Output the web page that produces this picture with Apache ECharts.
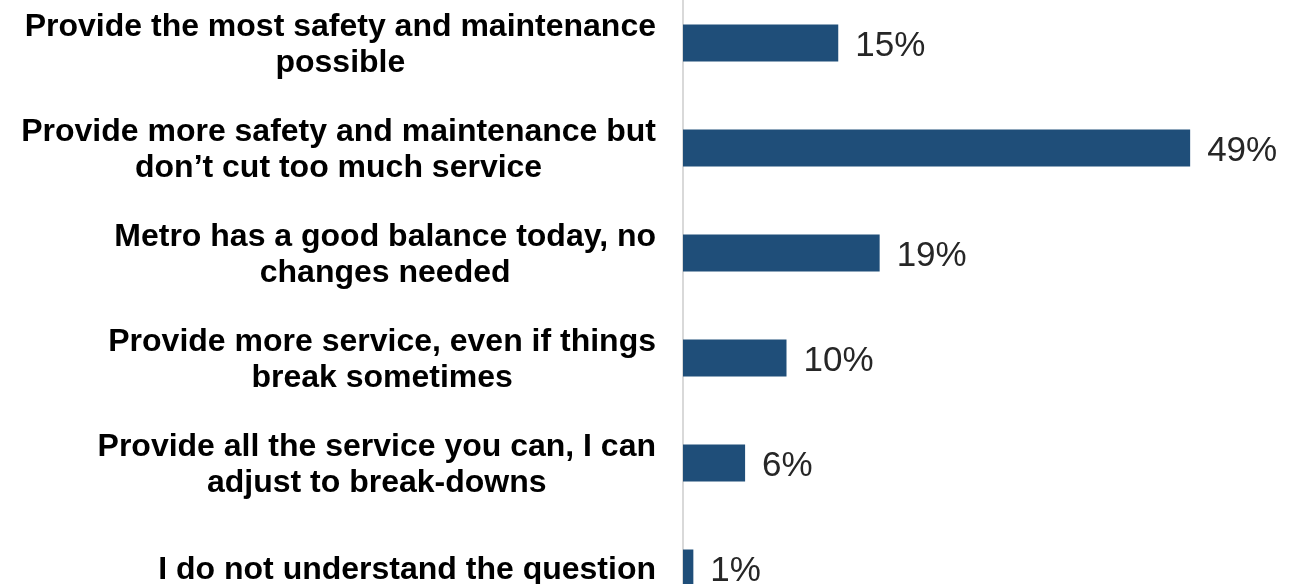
<!DOCTYPE html>
<html>
<head>
<meta charset="utf-8">
<script src="https://cdn.jsdelivr.net/npm/echarts@6/dist/echarts.min.js"></script>
<style>
  html, body { margin: 0; padding: 0; background: #ffffff; }
  #chart { width: 1306px; height: 584px; }
</style>
</head>
<body>
<div id="chart"></div>
<script>
// Survey answers, top to bottom; each entry is the lines of its label
const categories = [
  ['Provide the most safety and maintenance', 'possible'],
  ['Provide more safety and maintenance but', 'don’t cut too much service'],
  ['Metro has a good balance today, no', 'changes needed'],
  ['Provide more service, even if things', 'break sometimes'],
  ['Provide all the service you can, I can', 'adjust to break-downs'],
  ['I do not understand the question']
];
// Share of respondents, percent
const values = [15, 49, 19, 10, 6, 1];

const chart = echarts.init(document.getElementById('chart'), null, { renderer: 'canvas' });

chart.setOption({
  animation: false,
  backgroundColor: '#ffffff',
  grid: {
    left: 683,
    right: 2,
    top: -9.5,
    bottom: -36.5,
    containLabel: false,
    outerBoundsMode: 'none'
  },
  xAxis: {
    type: 'value',
    min: 0,
    max: 60,
    show: false
  },
  yAxis: {
    type: 'category',
    inverse: true,
    data: categories.map(lines => lines.join('\n')),
    axisLine: { show: true, lineStyle: { color: '#D9D9D9', width: 2 } },
    axisTick: { show: false },
    splitLine: { show: false },
    axisLabel: {
      margin: 27,
      padding: [5, 0, 0, 0],
      formatter: value => value.split('\n').map(l => '{c|' + l + '}').join('\n'),
      rich: {
        c: {
          align: 'center',
          fontFamily: '"Liberation Sans", Arial, sans-serif',
          fontWeight: 'bold',
          fontSize: 32,
          lineHeight: 36,
          color: '#000000'
        }
      }
    }
  },
  series: [{
    type: 'bar',
    data: values,
    barWidth: 37,
    itemStyle: { color: '#1F4E79' },
    label: {
      show: true,
      position: 'right',
      distance: 17,
      offset: [0, 3],
      formatter: p => p.value + '%',
      fontFamily: '"Liberation Sans", Arial, sans-serif',
      fontSize: 35,
      color: '#262626'
    }
  }]
});
</script>
</body>
</html>
